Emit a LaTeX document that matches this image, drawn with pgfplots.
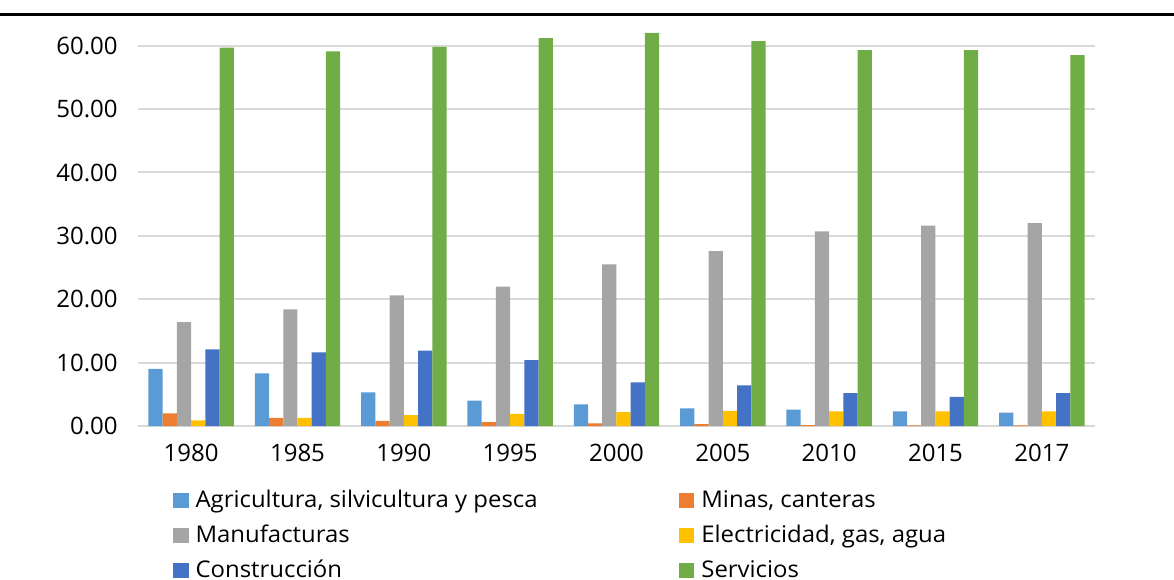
\documentclass[border=0pt]{standalone}
\usepackage{fontspec}
\setmainfont{Open Sans}
\newfontfamily\legfont[FakeStretch=1.04]{Open Sans}
\usepackage{pgfplots}
\pgfplotsset{compat=1.18}
\usepackage{pgfplotstable}
\definecolor{cA}{HTML}{5B9BD5}
\definecolor{cB}{HTML}{ED7D31}
\definecolor{cC}{HTML}{A5A5A5}
\definecolor{cD}{HTML}{FFC000}
\definecolor{cE}{HTML}{4472C4}
\definecolor{cF}{HTML}{70AD47}
\definecolor{gridc}{HTML}{D9D9D9}
\pgfplotstableread{
x A M Mf E C S
0 9.0 2.0 16.4 0.9 12.1 59.7
1 8.3 1.3 18.4 1.3 11.6 59.1
2 5.3 0.8 20.6 1.7 11.9 59.8
3 4.0 0.6 22.0 1.9 10.4 61.2
4 3.4 0.4 25.5 2.2 6.9 62.0
5 2.8 0.3 27.6 2.4 6.4 60.7
6 2.6 0.15 30.7 2.3 5.2 59.3
7 2.3 0.1 31.6 2.3 4.6 59.3
8 2.1 0.1 32.0 2.3 5.2 58.5
}\datatable
\begin{document}
\begin{tikzpicture}
\useasboundingbox (0,0) rectangle (587pt,289.5pt);
\draw[line width=1.5pt,black] (0,282.2pt) -- (587pt,282.2pt);
\begin{axis}[
  at={(69pt,76.5pt)}, anchor=south west,
  scale only axis, width=478.5pt, height=199.7pt,
  xmin=-0.5, xmax=8.5, ymin=0, ymax=63,
  ybar=0pt, bar width=0.134,
  axis line style={draw=none},
  ymajorgrids, xmajorgrids=false, grid style={color=gridc, line width=1pt},
  ytick={0,10,20,30,40,50,60},
  xtick={0,...,8},
  xticklabels={1980,1985,1990,1995,2000,2005,2010,2015,2017},
  yticklabel={\pgfmathprintnumber[fixed,fixed zerofill,precision=2]{\tick}},
  /pgf/number format/assume math mode=true,
  major tick length=0pt,
  ticklabel style={font=\fontsize{12}{14}\selectfont, inner sep=0pt, text height=8.6pt, text depth=0pt},
  yticklabel style={anchor=east, xshift=-10pt},
  xticklabel style={anchor=north, yshift=-8.7pt},
  legend columns=2,
  legend style={at={(17.5pt,-31.3pt)}, anchor=north west, draw=none, fill=none, inner sep=0pt,
    nodes={inner sep=0pt, anchor=west, text height=9pt, text depth=2.5pt, font=\legfont\fontsize{11.5}{13}\selectfont},
    column sep=3.5pt, row sep=6pt},
  legend image code/.code={\fill[#1] (0pt,-3.6pt) rectangle (7.6pt,3.6pt);},
]
\addplot[fill=cA, draw=none] table[x=x,y=A]{\datatable};
\addlegendentry{\makebox[238.3pt][l]{Agricultura, silvicultura y pesca}}
\addplot[fill=cB, draw=none] table[x=x,y=M]{\datatable};
\addlegendentry{Minas, canteras}
\addplot[fill=cC, draw=none] table[x=x,y=Mf]{\datatable};
\addlegendentry{\makebox[238.3pt][l]{Manufacturas}}
\addplot[fill=cD, draw=none] table[x=x,y=E]{\datatable};
\addlegendentry{Electricidad, gas, agua}
\addplot[fill=cE, draw=none] table[x=x,y=C]{\datatable};
\addlegendentry{\makebox[238.3pt][l]{Construcción}}
\addplot[fill=cF, draw=none] table[x=x,y=S]{\datatable};
\addlegendentry{Servicios}
\end{axis}
\end{tikzpicture}
\end{document}
